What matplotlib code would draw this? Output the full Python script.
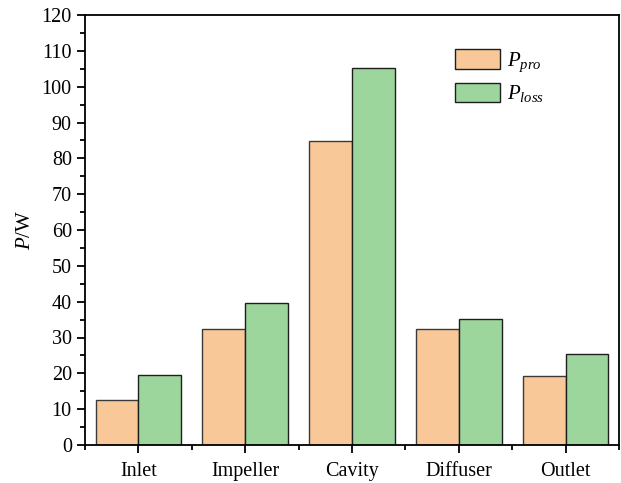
import matplotlib
matplotlib.use("Agg")
import matplotlib.pyplot as plt
import numpy as np
from matplotlib.ticker import MultipleLocator

plt.rcParams['font.family'] = ['Liberation Serif', 'DejaVu Serif']
plt.rcParams['mathtext.fontset'] = 'custom'
plt.rcParams['mathtext.rm'] = 'Liberation Serif'
plt.rcParams['mathtext.it'] = 'Liberation Serif:italic'

# Power in each pump region
regions = ["Inlet", "Impeller", "Cavity", "Diffuser", "Outlet"]
p_pro = [12.6, 32.5, 84.9, 32.5, 19.2]
p_loss = [19.5, 39.7, 105.1, 35.2, 25.3]

fig = plt.figure(figsize=(6.21, 4.83), dpi=100)
ax = fig.add_axes([85 / 621, 1 - 445 / 483, (619 - 85) / 621, (445 - 15) / 483])

x = np.arange(len(regions))
w = 0.4
ax.bar(x - w / 2, p_pro, w, color='#f9c899', edgecolor='#3a3a3a', linewidth=1.0,
       label=r'$P_{pro}$')
ax.bar(x + w / 2, p_loss, w, color='#9dd69d', edgecolor='#1e1e1e', linewidth=1.0,
       label=r'$P_{loss}$')

ax.set_xlim(-0.5, len(regions) - 0.5)
ax.set_ylim(0, 120)
ax.set_xticks(x)
ax.set_xticklabels(regions)
ax.xaxis.set_minor_locator(MultipleLocator(1, offset=0.5))
ax.yaxis.set_major_locator(MultipleLocator(10))
ax.yaxis.set_minor_locator(MultipleLocator(5))
ax.tick_params(which='both', direction='out', labelsize=14.5, width=1.3, top=False, right=False)
ax.tick_params(which='major', length=6)
ax.tick_params(which='minor', length=3.5)
ax.tick_params(axis='x', pad=6)
for s in ax.spines.values():
    s.set_linewidth(1.3)

ax.set_ylabel(r'$P$/W', fontsize=15, labelpad=5)

leg = ax.legend(loc='upper left', bbox_to_anchor=(0.693, 0.92), frameon=False,
                fontsize=15, handlelength=2.15, handleheight=1.05, labelspacing=0.4,
                handletextpad=0.35, borderaxespad=0, borderpad=0)
for h in leg.legend_handles:
    h.set_edgecolor('#1e1e1e')

fig.savefig("out.png", dpi=100)
